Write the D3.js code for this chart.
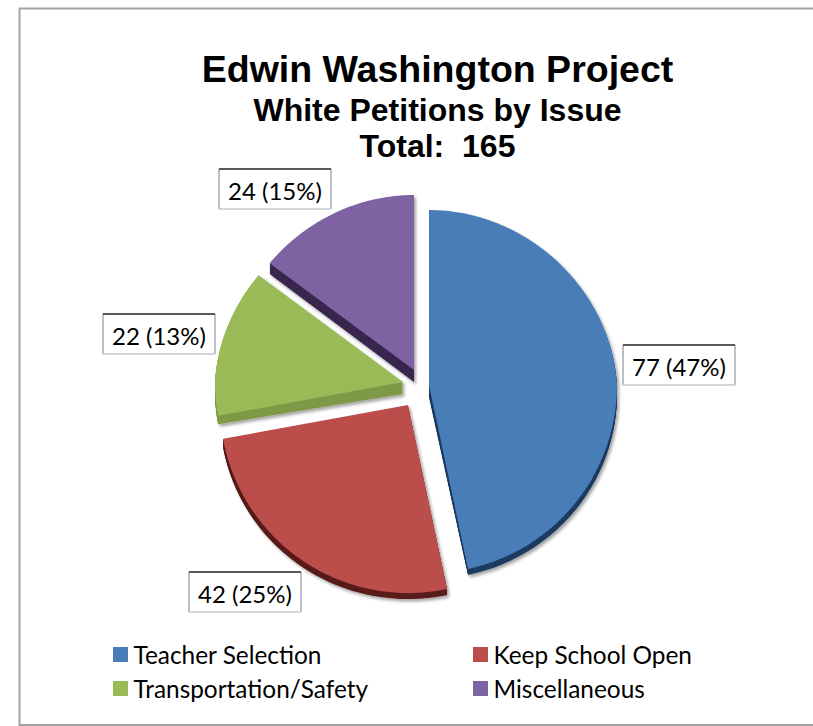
<!DOCTYPE html>
<html>
<head>
<meta charset="utf-8">
<title>Edwin Washington Project</title>
<script src="https://cdn.jsdelivr.net/npm/d3@7/dist/d3.min.js"></script>
<style>
html, body { margin: 0; padding: 0; background: #fff; }
svg { display: block; }
.title { font-family: "Liberation Sans", Arial, sans-serif; font-weight: bold; fill: #000; text-anchor: middle; }
.lbl, .leg { font-family: Lato, "Noto Sans", sans-serif; fill: #000; }
</style>
</head>
<body>
<svg width="813" height="726"></svg>
<script>
var categories = ["Teacher Selection", "Keep School Open", "Transportation/Safety", "Miscellaneous"];
var values = [77, 42, 22, 24];
var titleLines = ["Edwin Washington Project", "White Petitions by Issue", "Total:  165"];

var colors = ["#4a7db8", "#bb4e4b", "#9aba58", "#7f62a1"];
var sideColors = ["#1d3c60", "#5a1c1b", "#7d9a47", "#38264f"];

// where each exploded slice sits, relative to the pie centre
var center = [418, 388];
var shifts = [[11, -3], [-10, 17], [-15, -6], [-4, -18]];
var labelBoxes = [[623, 345], [189, 572], [103, 314], [219, 169]];

var svg = d3.select("svg");
var defs = svg.append("defs");

var shadow = defs.append("filter").attr("id", "shadow")
    .attr("x", "-10%").attr("y", "-10%").attr("width", "120%").attr("height", "120%");
shadow.append("feDropShadow")
    .attr("dx", 2).attr("dy", 2.5).attr("stdDeviation", 1.8)
    .attr("flood-color", "#000").attr("flood-opacity", 0.35);

// frame
svg.append("path")
    .attr("d", "M813,8.5H19.5V725H813")
    .attr("fill", "none")
    .attr("stroke", "#a3a3a3")
    .attr("stroke-width", 2);

// titles
var titleSizes = [37.5, 32, 32];
var titleBase = [82, 121, 157];
svg.selectAll(".title").data(titleLines).enter().append("text")
    .attr("class", "title")
    .attr("xml:space", "preserve")
    .style("white-space", "pre")
    .attr("x", 437.5)
    .attr("y", function(d, i){ return titleBase[i]; })
    .attr("font-size", function(d, i){ return titleSizes[i]; })
    .text(function(d){ return d; });

// pie, tilted a bit: the near half of the disc is taller than the far half,
// and the far half narrows a little
var rx = 188, ryFar = 175, ryNear = 188;
function rimPoint(a, drop){
    var c = Math.cos(a);
    var ry = c > 0 ? ryFar : ryNear;
    var narrow = c > 0 ? 1 - 0.05*c : 1;
    return [rx*narrow*Math.sin(a), -ry*c + drop];
}
// wall depth: 12 at the apex and far rim, about 6 at the near rim
function wallDepth(a){
    return 9 + 3*Math.cos(a);
}
function slicePath(d, t){
    var n = 60, pts = [[0, 12*t]];
    for(var i = 0; i <= n; i++){
        var a = d.startAngle + (d.endAngle - d.startAngle)*i/n;
        pts.push(rimPoint(a, wallDepth(a)*t));
    }
    return d3.line()(pts) + "Z";
}

var pie = d3.pie().sort(null);
var arcs = pie(values);

var slices = svg.selectAll(".slice").data(arcs).enter().append("g")
    .attr("class", "slice")
    .attr("filter", "url(#shadow)")
    .attr("transform", function(d, i){
        return "translate(" + (center[0] + shifts[i][0]) + "," + (center[1] + shifts[i][1]) + ")";
    });

// the side wall is swept from the top face down to the dropped copy
slices.each(function(d, i){
    var g = d3.select(this);
    for(var s = 12; s >= 1; s--){
        g.append("path")
            .attr("d", slicePath(d, s/12))
            .attr("fill", sideColors[i]);
    }
    g.append("path")
        .attr("d", slicePath(d, 0))
        .attr("fill", colors[i]);
});

// data labels
var fmt = d3.format(".0f");
var total = d3.sum(values);
var boxW = 112, boxH = 40;
var labels = svg.selectAll(".lblbox").data(values).enter().append("g")
    .attr("class", "lblbox")
    .attr("transform", function(d, i){ return "translate(" + labelBoxes[i][0] + "," + labelBoxes[i][1] + ")"; });
labels.append("rect").attr("width", boxW).attr("height", boxH).attr("fill", "#fff");
labels.append("path").attr("d", "M0,0V" + boxH).attr("stroke", "#a4a9b4").attr("stroke-width", 1.5);
labels.append("path").attr("d", "M" + boxW + ",0V" + boxH).attr("stroke", "#a4adbd").attr("stroke-width", 1.5);
labels.append("path").attr("d", "M0," + boxH + "H" + boxW).attr("stroke", "#c4c8d0").attr("stroke-width", 1.5);
labels.append("path").attr("d", "M0,0H" + boxW).attr("stroke", "#222").attr("stroke-width", 1.5);
labels.append("text")
    .attr("class", "lbl")
    .attr("x", boxW/2).attr("y", 31)
    .attr("text-anchor", "middle")
    .attr("font-size", 24)
    .text(function(d){ return d + " (" + fmt(d/total*100) + "%)"; });

// legend
var legendX = d3.scalePoint().domain([0, 1]).range([113, 473]);
var legendY = d3.scalePoint().domain([0, 1]).range([647, 681]);
var legend = svg.selectAll(".leg-item").data(categories).enter().append("g")
    .attr("class", "leg-item")
    .attr("transform", function(d, i){ return "translate(" + legendX(i % 2) + "," + legendY(Math.floor(i/2)) + ")"; });
legend.append("rect").attr("width", 15).attr("height", 15)
    .attr("fill", function(d, i){ return colors[i]; });
legend.append("text")
    .attr("class", "leg")
    .attr("x", 20.5).attr("y", 17)
    .attr("font-size", 24.4)
    .text(function(d){ return d; });
</script>
</body>
</html>
